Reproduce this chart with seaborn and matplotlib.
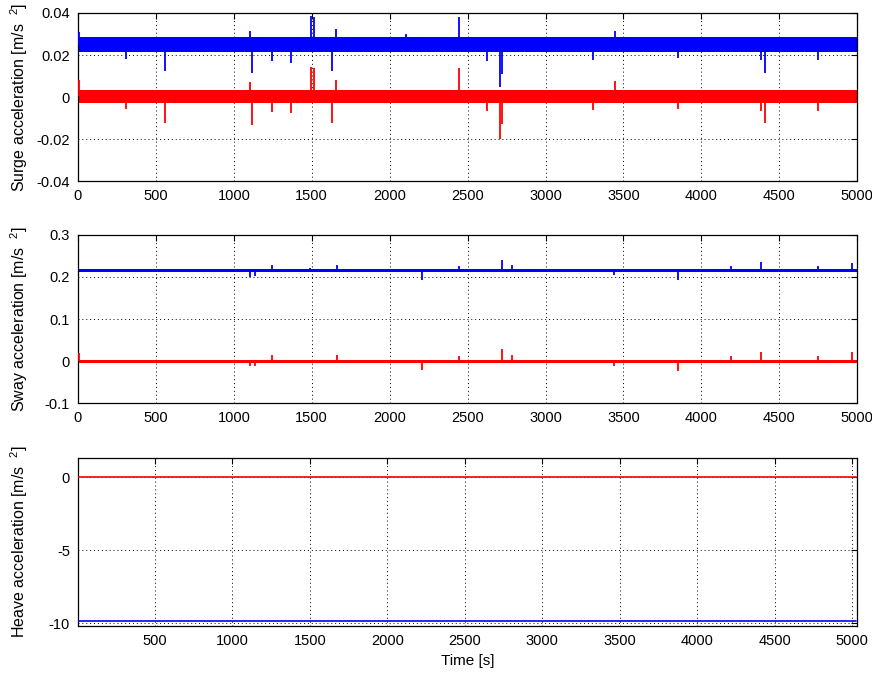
import numpy as np
import pandas as pd
import matplotlib
matplotlib.use('Agg')
import matplotlib.pyplot as plt
import seaborn as sns

# ---- data ----
t_range = [0, 5000]

# surge: noise band (centre, half width) and spikes (time, peak value)
surge_blue_band = [0.0250, 0.0035]
surge_red_band = [0.0003, 0.0031]
surge_blue_spk_t = [5, 308, 558, 1104, 1114, 1245, 1367, 1495, 1515, 1630, 1656, 2105, 2446, 2625, 2708, 2721, 3306, 3447, 3851, 4384, 4410, 4750]
surge_blue_spk_v = [0.031, 0.018, 0.0124, 0.0314, 0.0114, 0.0171, 0.0162, 0.0386, 0.0381, 0.0125, 0.0324, 0.030, 0.0381, 0.0171, 0.0048, 0.011, 0.0176, 0.0314, 0.0186, 0.0176, 0.0114, 0.0176]
surge_red_spk_t = [5, 308, 558, 1104, 1114, 1245, 1367, 1495, 1515, 1630, 1656, 2446, 2625, 2708, 2721, 3306, 3447, 3851, 4384, 4410, 4750]
surge_red_spk_v = [0.0081, -0.0057, -0.0124, 0.0071, -0.0133, -0.0071, -0.0076, 0.0143, 0.0138, -0.0124, 0.0081, 0.0138, -0.0067, -0.020, -0.0128, -0.006, 0.0076, -0.0057, -0.0067, -0.0124, -0.0067]

# sway
sway_blue_band = [0.2145, 0.0038]
sway_red_band = [-0.0005, 0.0038]
sway_blue_spk_t = [1104, 1136, 1245, 1490, 1662, 2210, 2446, 2721, 2786, 3441, 3851, 4191, 4384, 4750, 4968]
sway_blue_spk_v = [0.201, 0.203, 0.2286, 0.221, 0.2286, 0.192, 0.227, 0.2405, 0.228, 0.205, 0.192, 0.226, 0.236, 0.226, 0.234]
sway_red_spk_t = [5, 1104, 1136, 1245, 1662, 2210, 2446, 2721, 2786, 3441, 3851, 4191, 4384, 4750, 4968]
sway_red_spk_v = [0.018, -0.013, -0.012, 0.0143, 0.0143, -0.0214, 0.013, 0.0286, 0.014, -0.013, -0.024, 0.013, 0.021, 0.012, 0.021]

# heave: almost flat lines
heave_t = [5, 5028]
heave_red = [0.0, 0.0]
heave_blue = [-9.82, -9.82]

sns.set_theme(style='white')
plt.rcParams['font.family'] = ['Liberation Sans', 'DejaVu Sans']
plt.rcParams['mathtext.fontset'] = 'custom'
plt.rcParams['mathtext.rm'] = 'Liberation Sans'
plt.rcParams['mathtext.it'] = 'Liberation Sans'
plt.rcParams['axes.unicode_minus'] = False

fig = plt.figure(figsize=(8.72, 6.77), dpi=100)
ax1 = fig.add_axes([0.0894, 0.7326, 0.8937, 0.2482])
ax2 = fig.add_axes([0.0894, 0.4047, 0.8937, 0.2482])
ax3 = fig.add_axes([0.0898, 0.0758, 0.8927, 0.2481])

BLUE = (0, 0, 1)
RED = (1, 0, 0)


def draw_band(ax, band, color):
    c, h = band
    ax.fill_between(t_range, [c - h] * 2, [c + h] * 2, color=color, lw=0, zorder=2)


def draw_spikes(ax, band, ts, vs, color):
    df = pd.DataFrame({'t': ts, 'v': vs})
    ax.vlines(df['t'], band[0], df['v'], colors=[color], lw=1.3, zorder=3)


def style(ax, label):
    ax.grid(True, color='black', linestyle=(0, (1, 3)), lw=0.7)
    ax.set_axisbelow(True)
    for s in ax.spines.values():
        s.set_color('black')
        s.set_linewidth(0.9)
        s.set_visible(True)
    ax.tick_params(direction='in', length=4, width=0.8, top=True, right=True,
                   labelsize=10.5, colors='black', pad=6)
    ax.set_ylabel(label, fontsize=11.5, color='black')
    ax.yaxis.set_label_coords(-0.062, 0.5)


# surge
draw_band(ax1, surge_blue_band, BLUE)
draw_band(ax1, surge_red_band, RED)
draw_spikes(ax1, surge_blue_band, surge_blue_spk_t, surge_blue_spk_v, BLUE)
draw_spikes(ax1, surge_red_band, surge_red_spk_t, surge_red_spk_v, RED)
ax1.set_xlim(0, 5000)
ax1.set_ylim(-0.04, 0.04)
ax1.set_yticks([-0.04, -0.02, 0, 0.02, 0.04])
ax1.set_yticklabels(['-0.04', '-0.02', '0', '0.02', '0.04'])
ax1.set_xticks(np.arange(0, 5001, 500))
style(ax1, r'Surge acceleration [m/s  $^{2}$]')

# sway
draw_band(ax2, sway_blue_band, BLUE)
draw_band(ax2, sway_red_band, RED)
draw_spikes(ax2, sway_blue_band, sway_blue_spk_t, sway_blue_spk_v, BLUE)
draw_spikes(ax2, sway_red_band, sway_red_spk_t, sway_red_spk_v, RED)
ax2.set_xlim(0, 5000)
ax2.set_ylim(-0.1, 0.3)
ax2.set_yticks([-0.1, 0, 0.1, 0.2, 0.3])
ax2.set_yticklabels(['-0.1', '0', '0.1', '0.2', '0.3'])
ax2.set_xticks(np.arange(0, 5001, 500))
style(ax2, r'Sway acceleration [m/s  $^{2}$]')

# heave
hv = pd.DataFrame({'t': heave_t * 2, 'v': heave_red + heave_blue,
                   'sig': ['red'] * 2 + ['blue'] * 2})
sns.lineplot(data=hv, x='t', y='v', hue='sig', palette={'red': RED, 'blue': BLUE},
             lw=1.2, legend=False, ax=ax3, zorder=3)
ax3.set_xlim(5, 5030)
ax3.set_ylim(-10.15, 1.35)
ax3.set_yticks([-10, -5, 0])
ax3.set_yticklabels(['-10', '-5', '0'])
ax3.set_xticks(np.arange(500, 5001, 500))
style(ax3, r'Heave acceleration [m/s  $^{2}$]')
ax3.set_xlabel('Time [s]', fontsize=11, color='black', labelpad=4)

fig.savefig('out.png', dpi=100)
